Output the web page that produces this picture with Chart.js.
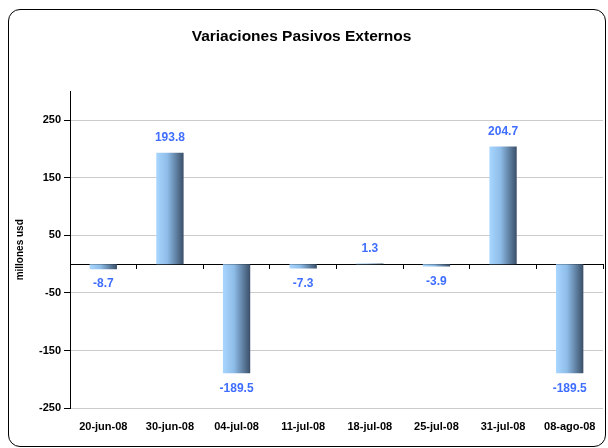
<!DOCTYPE html>
<html>
<head>
<meta charset="utf-8">
<script src="https://cdn.jsdelivr.net/npm/chart.js@4.4.0/dist/chart.umd.min.js"></script>
<style>
    body { margin: 0; background: #fff; }
    #marco { position: relative; width: 608px; height: 448px; }
    #borde {
        position: absolute; left: 8px; top: 9px; width: 596px; height: 436px;
        border: 1.5px solid #000; border-radius: 12px; pointer-events: none;
    }
</style>
</head>
<body>
<div id="marco">
    <canvas id="pasivosChart" width="608" height="448"></canvas>
    <div id="borde"></div>
</div>
<script>
// datos
const fechas = ['20-jun-08', '30-jun-08', '04-jul-08', '11-jul-08', '18-jul-08', '25-jul-08', '31-jul-08', '08-ago-08'];
const variaciones = [-8.7, 193.8, -189.5, -7.3, 1.3, -3.9, 204.7, -189.5];
const marcasY = [-250, -150, -50, 50, 150, 250];
const minY = -250;
const maxY = 300;

const anchoBarra = 0.41;

Chart.defaults.font.family = '"Liberation Sans", Arial, sans-serif';
Chart.defaults.color = '#000';

// relleno degradado de izquierda a derecha en cada barra
function degradado(context) {
    const chart = context.chart;
    if (!chart.chartArea || !chart.scales.x || context.dataIndex === undefined) {
        return '#7fa9d6';
    }
    const xs = chart.scales.x;
    const cx = xs.getPixelForValue(context.dataIndex);
    const mitad = xs.width / fechas.length * anchoBarra / 2;
    const g = chart.ctx.createLinearGradient(cx - mitad, 0, cx + mitad, 0);
    g.addColorStop(0, '#a8d6ff');
    g.addColorStop(0.4, '#8ebde9');
    g.addColorStop(1, '#3a4f68');
    return g;
}

// etiquetas de valor encima / debajo de las barras
const etiquetas = {
    id: 'etiquetas',
    afterDatasetsDraw(chart) {
        const ctx = chart.ctx;
        const meta = chart.getDatasetMeta(0);
        ctx.save();
        ctx.font = 'bold 12px "Liberation Sans", Arial, sans-serif';
        ctx.fillStyle = '#3f6dff';
        ctx.textAlign = 'center';
        ctx.textBaseline = 'middle';
        meta.data.forEach(function (bar, i) {
            const v = variaciones[i];
            const y = v >= 0 ? bar.y - 15 : bar.y + 15;
            ctx.fillText(v.toFixed(1), bar.x, y);
        });
        ctx.restore();
    }
};

const ctx = document.getElementById('pasivosChart').getContext('2d');
const pasivosChart = new Chart(ctx, {
    type: 'bar',
    data: {
        labels: fechas,
        datasets: [{
            label: 'Variaciones',
            data: variaciones,
            backgroundColor: degradado,
            borderWidth: 0,
            barPercentage: anchoBarra,
            categoryPercentage: 1.0
        }]
    },
    options: {
        responsive: false,
        animation: false,
        layout: { padding: { left: 0, right: 5, top: 0, bottom: 0 } },
        plugins: {
            legend: { display: false },
            tooltip: { enabled: false },
            title: {
                display: true,
                text: 'Variaciones Pasivos Externos',
                font: { size: 15.5, weight: 'bold' },
                color: '#000',
                padding: { top: 27, bottom: 46 }
            }
        },
        scales: {
            x: {
                position: 'bottom',
                grid: { display: false, drawTicks: false },
                border: { display: false },
                ticks: { font: { size: 11, weight: 'bold' }, padding: 12, maxRotation: 0 },
                afterFit: function (scale) { scale.height = 40; }
            },
            x2: {
                type: 'category',
                labels: fechas,
                position: { y: 0 },
                offset: true,
                grid: { drawOnChartArea: false, offset: true, color: '#000', tickLength: 4 },
                border: { color: '#000', width: 1 },
                ticks: { display: false }
            },
            y: {
                min: minY,
                max: maxY,
                afterBuildTicks: function (scale) {
                    scale.ticks = marcasY.map(function (v) { return { value: v }; });
                },
                grid: { color: '#cccccc', tickColor: '#000', tickLength: 6 },
                border: { color: '#000', width: 1 },
                ticks: { font: { size: 11, weight: 'bold' }, padding: 3 },
                title: {
                    display: true,
                    text: 'millones usd',
                    font: { size: 10, weight: 'bold' },
                    padding: { top: 14, bottom: 0 }
                },
                afterFit: function (scale) { scale.width = 70; }
            }
        }
    },
    plugins: [etiquetas]
});
</script>
</body>
</html>
